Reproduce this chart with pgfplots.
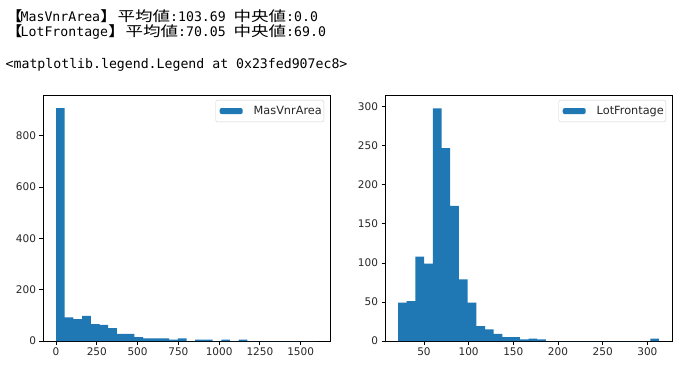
\documentclass[border=0pt]{standalone}
\usepackage{fontspec}
\setmainfont{DejaVu Sans}
\newfontfamily\jpfont[FakeStretch=1.25]{Noto Sans CJK JP}
\newfontfamily\monofont{DejaVu Sans Mono}
\usepackage{pgfplots}
\pgfplotsset{compat=1.18}
\definecolor{mplblue}{HTML}{1F77B4}
\newcommand{\jp}[1]{{\jpfont\fontsize{14}{15}\selectfont #1}}

\begin{document}
\begin{tikzpicture}
\useasboundingbox (0,0) rectangle (695pt,-379pt);
\node[anchor=base west, inner sep=0] at (5pt,-21.5pt) {\monofont\fontsize{13.2}{15}\selectfont\jp{【}\kern-2pt MasVnrArea\jp{】}\jp{平均値}:103.69 \jp{中央値}:0.0};
\node[anchor=base west, inner sep=0] at (5pt,-37pt) {\monofont\fontsize{13.2}{15}\selectfont\jp{【}\kern-2pt LotFrontage\jp{】}\jp{平均値}:70.05 \jp{中央値}:69.0};
\node[anchor=base west, inner sep=0] at (5.5pt,-69pt) {\monofont\fontsize{13.2}{15}\selectfont <matplotlib.legend.Legend at 0x23fed907ec8>};

\pgfplotsset{myhist/.style={
  scale only axis, width=287pt, height=246pt, anchor=south west,
  tick pos=left, tick align=outside, major tick length=3.5pt,
  axis line style={line width=0.8pt},
  every tick/.style={black, line width=0.8pt},
  scaled ticks=false,
  /pgf/number format/assume math mode=true,
  /pgf/number format/set thousands separator={},
  ticklabel style={font=\fontsize{10.5}{12}\selectfont, text=black!85},
  legend style={at={(1,1)}, xshift=-6pt, yshift=-5pt, anchor=north east,
    draw=black!18, rounded corners=2pt, font=\fontsize{11.3}{13}\selectfont,
    text=black!85, inner xsep=0pt, inner ysep=4pt},
  legend image code/.code={\path[fill=none, draw=none] (0pt,0pt) -- (36pt,0pt);
    \fill[mplblue] (4pt,-3pt) rectangle (27pt,3pt);},
}}

\begin{axis}[myhist, at={(43pt,-341pt)}, xmin=-80, xmax=1680, ymin=0, ymax=958,
  xtick={0,250,...,1500}, ytick={0,200,...,800}]
\addplot[ybar interval, fill=mplblue, draw=none] coordinates {
(0,907) (53.33,92) (106.67,85) (160,98) (213.33,66) (266.67,63) (320,50)
(373.33,28) (426.67,28) (480,15) (533.33,10) (586.67,10) (640,10)
(693.33,5) (746.67,10) (800,0) (853.33,5) (906.67,5) (960,0)
(1013.33,5) (1066.67,0) (1120,5) (1173.33,0) (1226.67,0) (1280,0)
(1333.33,0) (1386.67,0) (1440,0) (1493.33,0) (1546.67,0) (1600,0)};
\addlegendentry{MasVnrArea}
\end{axis}

\begin{axis}[myhist, at={(385pt,-341pt)}, xmin=6.4, xmax=327.6, ymin=0, ymax=315,
  xtick={50,100,...,300}, ytick={0,50,...,300}]
\addplot[ybar interval, fill=mplblue, draw=none] coordinates {
(21,49) (30.73,51) (40.47,108) (50.2,99) (59.93,298) (69.67,247)
(79.4,173) (89.13,79) (98.87,49) (108.6,19) (118.33,15) (128.07,9)
(137.8,5) (147.53,5) (157.27,2) (167,3) (176.73,2) (186.47,0)
(196.2,0) (205.93,0) (215.67,0) (225.4,0) (235.13,0) (244.87,0)
(254.6,0) (264.33,0) (274.07,0) (283.8,0) (293.53,0) (303.27,3) (313,3)};
\addlegendentry{LotFrontage}
\end{axis}
\end{tikzpicture}
\end{document}
